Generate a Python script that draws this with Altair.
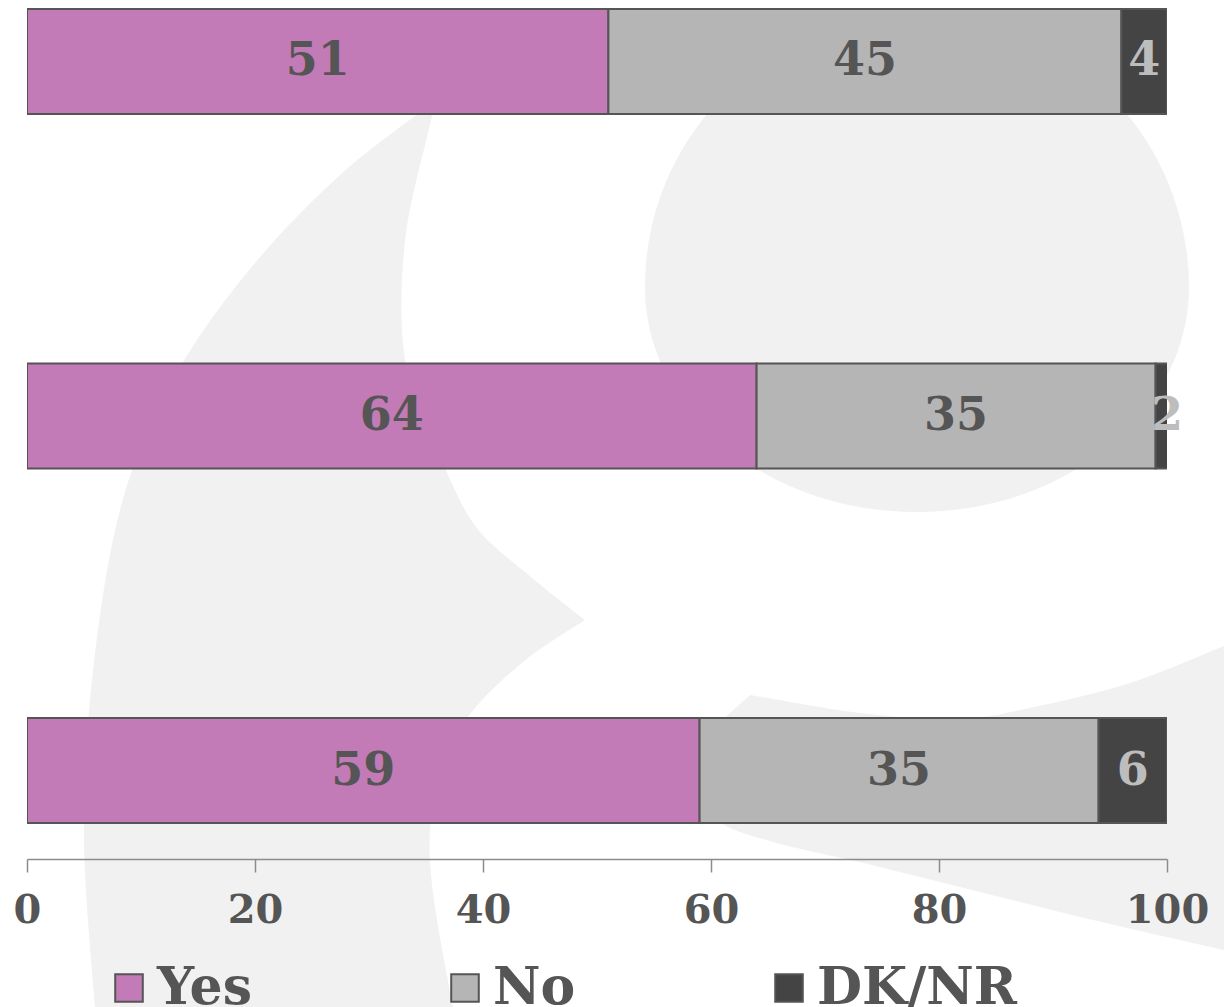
import altair as alt
import pandas as pd

# Survey results: three questions, share of answers in percent
rows = ["Q1", "Q2", "Q3"]
answers = ["Yes", "No", "DK/NR"]
yes = [51, 64, 59]
no = [45, 35, 35]
dk_nr = [4, 2, 6]
ticks = [0, 20, 40, 60, 80, 100]

fill_colors = ["#c27bb6", "#b5b5b5", "#444444"]
ink = "#555555"
font = "DejaVu Serif"


def smooth(points):
    """Catmull-Rom curve through the given points, as SVG cubic segments."""
    out = []
    for i in range(len(points) - 1):
        p0 = points[max(i - 1, 0)]
        p1, p2 = points[i], points[i + 1]
        p3 = points[min(i + 2, len(points) - 1)]
        c1 = (p1[0] + (p2[0] - p0[0]) / 6, p1[1] + (p2[1] - p0[1]) / 6)
        c2 = (p2[0] - (p3[0] - p1[0]) / 6, p2[1] - (p3[1] - p1[1]) / 6)
        out.append("C %.1f %.1f %.1f %.1f %.1f %.1f" % (c1 + c2 + p2))
    return " ".join(out)


# Light background emblem, outlined in page pixels
sweep_inner = [(437, 100), (428, 133), (406, 233), (402, 330), (415, 405),
               (441, 460), (476, 527), (531, 577), (585, 620)]
sweep_tail = [(585, 620), (523, 662), (468, 717), (443, 772), (430, 830),
              (434, 900), (453, 1007)]
sweep_outer = [(95, 1007), (84, 840), (92, 680), (120, 510), (170, 385),
               (245, 275), (340, 175), (437, 100)]
wedge_top = [(750, 695), (860, 713), (960, 719), (1034, 707), (1130, 683), (1224, 646)]
wedge_low = [(1224, 950), (1093, 920), (960, 887), (859, 862), (773, 842),
             (720, 822), (704, 790), (712, 735), (750, 695)]

EMBLEM = " ".join([
    "M 645 287 A 272 272 0 0 1 1189 287 A 272 225 0 0 1 645 287 Z",
    "M 437 100", smooth(sweep_inner), "L 585 620", smooth(sweep_tail),
    "L 95 1007", smooth(sweep_outer), "Z",
    "M 750 695", smooth(wedge_top), "L 1224 950", smooth(wedge_low), "Z",
])

records = []
for i, r in enumerate(rows):
    start = 0
    for a, v in zip(answers, [yes[i], no[i], dk_nr[i]]):
        records.append({"row": r, "answer": a, "value": v,
                        "start": start, "end": start + v,
                        "mid": start + v / 2, "order": answers.index(a)})
        start += v
df = pd.DataFrame(records)

x_scale = alt.Scale(domain=[0, 100], nice=False, zero=True)
y_scale = alt.Scale(domain=rows, paddingInner=0.704, paddingOuter=0.0634, align=0.2)

emblem = alt.Chart(pd.DataFrame({"k": [0]})).mark_point(
    shape=EMBLEM, filled=True, fill="#f1f1f1", opacity=1, strokeWidth=0, size=4
).encode(x=alt.value(-27), y=alt.value(0))

bars = alt.Chart(df).mark_bar(stroke=ink, strokeWidth=2, clip=True).encode(
    x=alt.X("start:Q", scale=x_scale, title=None,
            axis=alt.Axis(values=ticks, grid=False, tickSize=13, tickColor="#8c8c8c",
                          domainColor="#8c8c8c", domainWidth=1.5, tickWidth=1.5,
                          labelFont=font, labelFontWeight="bold", labelFontSize=40,
                          labelColor=ink, labelPadding=18, labelFlush=False, zindex=1)),
    x2="end:Q",
    y=alt.Y("row:N", scale=y_scale, axis=None, sort=rows),
    color=alt.Color("answer:N", scale=alt.Scale(domain=answers, range=fill_colors),
                    sort=answers,
                    legend=alt.Legend(title=None, orient="none", direction="horizontal",
                                      legendX=76, legendY=962,
                                      symbolType="square", symbolSize=760,
                                      symbolStrokeColor=ink, symbolStrokeWidth=2,
                                      labelFont=font, labelFontWeight="bold",
                                      labelFontSize=52, labelColor=ink,
                                      labelOffset=2, columnPadding=187,
                                      labelLimit=400)),
    order="order:Q",
)

labels = alt.Chart(df).mark_text(font=font, fontWeight="bold", fontSize=46,
                                 baseline="middle", align="center").encode(
    x=alt.X("mid:Q", scale=x_scale),
    y=alt.Y("row:N", scale=y_scale, sort=rows),
    text="value:Q",
    color=alt.condition(alt.datum.answer == "DK/NR", alt.value("#bdbdbd"), alt.value(ink)),
)

chart = alt.layer(emblem, bars, labels).properties(
    width=1140, height=859,
    autosize=alt.AutoSizeParams(type="none"),
    padding={"left": 27, "top": 0, "right": 57, "bottom": 148},
    background="white",
).configure_view(stroke=None)

chart.save("out.html", embed_options={"renderer": "svg", "actions": False})
